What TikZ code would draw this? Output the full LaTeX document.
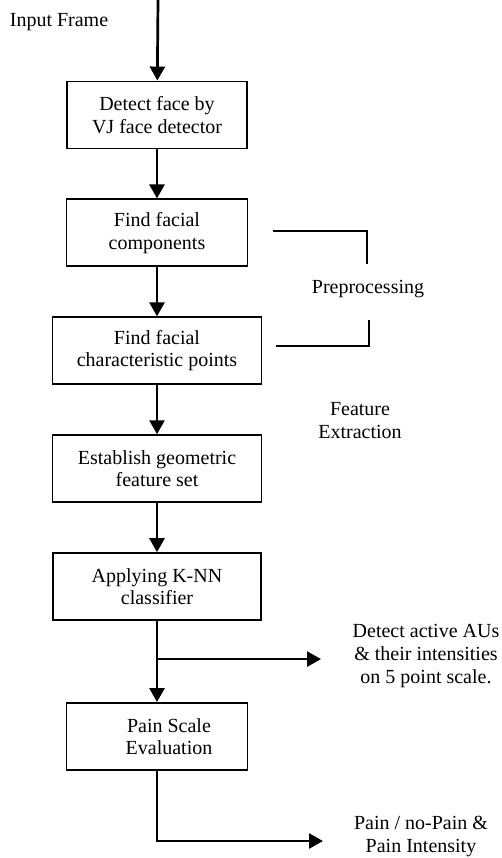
\documentclass[tikz,border=0pt]{standalone}
\usepackage{fontspec}
\setmainfont{Liberation Serif}
\usetikzlibrary{arrows.meta, positioning}

\begin{document}
\begin{tikzpicture}[x=1pt, y=-1pt,
    node distance=49pt,
    stage/.style={rectangle, draw=black, line width=1.9pt, fill=white, minimum height=67pt, inner sep=2pt, align=center, font=\fontsize{20}{22.5}\selectfont},
    note/.style={inner sep=0pt, align=center, font=\fontsize{20}{23}\selectfont},
    flow/.style={draw=black, line width=2.7pt, -{Triangle[width=15pt, length=14pt]}},
    bracket/.style={draw=black, line width=1.4pt}
]
    \useasboundingbox (0,0) rectangle (502,858);

    % --- Processing stages ---
    \node [stage, minimum width=180pt] at (157,115) (vj) {Detect face by\\VJ face detector};
    \node [stage, minimum width=181pt, below=of vj] (comp) {Find facial\\components};
    \node [stage, minimum width=209pt, below=of comp] (points) {Find facial\\characteristic points};
    \node [stage, minimum width=209pt, below=of points] (geom) {Establish geometric\\feature set};
    \node [stage, minimum width=208pt, below=of geom] (knn) {Applying K-NN\\classifier};
    \node [stage, minimum width=181pt, below=81pt of knn] (painscale) {\hspace*{24pt}Pain Scale\\\hspace*{24pt}Evaluation};

    % --- Input and outputs ---
    \coordinate (in) at (158,0);
    \node [note] (inlabel) at (59,22) {Input Frame};
    \coordinate [below=38pt of knn] (split);
    \coordinate [right=164pt of split] (ausin);
    \coordinate (verdict) at (323,841);
    \node [note] (aus) at (426,656) {Detect active AUs\\\& their intensities\\on 5 point scale.};
    \node [note] (result) at (421,836) {Pain / no-Pain \&\\Pain Intensity};

    % --- Phase labels ---
    \node [note] (prep) at (368,289) {Preprocessing};
    \node [note] (feat) at (360,421) {Feature\\Extraction};
    \draw [bracket] (273,231) -| (367,264);
    \draw [bracket] (369,320) |- (276,346);

    % --- Connections ---
    \path [flow] (in) -- (vj);
    \path [flow] (vj) -- (comp);
    \path [flow] (comp) -- (points);
    \path [flow] (points) -- (geom);
    \path [flow] (geom) -- (knn);
    \path [flow] (knn) -- (painscale);
    \path [flow] (split) -- (ausin);
    \path [flow] (painscale) |- (verdict);

\end{tikzpicture}
\end{document}
